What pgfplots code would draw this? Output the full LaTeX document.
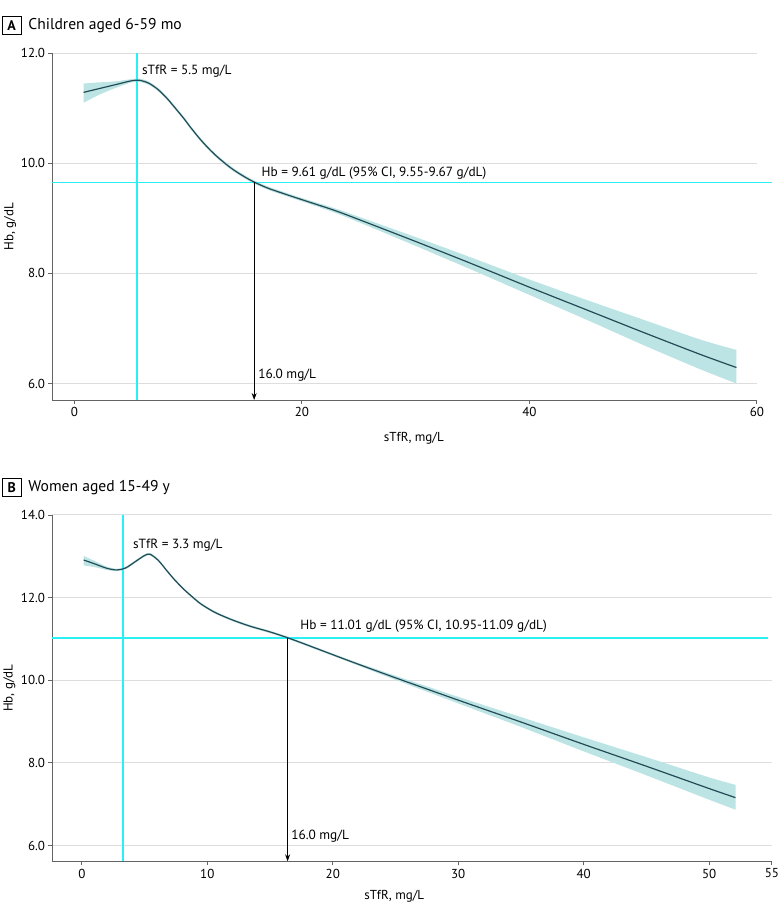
\documentclass[border=0pt]{standalone}
\usepackage{pgfplots}
\pgfplotsset{compat=1.18}
\usepackage{pgfplotstable}
\usepgfplotslibrary{fillbetween}
\usetikzlibrary{arrows.meta}
\usepackage{fontspec}
\setmainfont{PT Sans}
\definecolor{cyanl}{RGB}{40,240,245}
\definecolor{band}{RGB}{188,228,228}
\definecolor{curve}{RGB}{35,75,85}
\definecolor{gridc}{RGB}{221,221,221}
\definecolor{axc}{RGB}{100,100,100}

\pgfplotstableread{
x y lo hi
0.8 11.29 11.10 11.45
2 11.35 11.23 11.47
3 11.40 11.32 11.48
4 11.45 11.40 11.50
5 11.50 11.47 11.53
5.7 11.51 11.48 11.54
6.5 11.46 11.43 11.49
7.3 11.35 11.32 11.38
8.1 11.19 11.16 11.22
8.8 11.02 10.99 11.05
9.6 10.82 10.79 10.85
10.3 10.63 10.60 10.66
11.05 10.44 10.41 10.47
11.8 10.27 10.24 10.30
12.5 10.13 10.10 10.16
13.3 9.99 9.96 10.02
14.0 9.88 9.85 9.91
15 9.75 9.72 9.78
15.8 9.66 9.63 9.69
17 9.55 9.52 9.58
18.4 9.45 9.42 9.48
20 9.34 9.31 9.37
22.8 9.15 9.11 9.19
25 8.98 8.93 9.03
30 8.58 8.50 8.66
35 8.17 8.06 8.28
40 7.75 7.61 7.89
45 7.34 7.16 7.52
50 6.93 6.70 7.16
55 6.53 6.26 6.80
58.2 6.29 6.00 6.61
}\dataA

\pgfplotstableread{
x y lo hi
0.15 12.91 12.78 13.01
1 12.82 12.74 12.89
2 12.71 12.67 12.75
2.8 12.67 12.64 12.70
3.5 12.72 12.69 12.75
4.3 12.88 12.85 12.91
5.0 13.02 12.99 13.05
5.44 13.05 13.02 13.08
6.1 12.90 12.87 12.93
6.78 12.65 12.62 12.68
7.4 12.43 12.40 12.46
8.1 12.21 12.18 12.24
8.8 12.02 11.99 12.05
9.43 11.86 11.83 11.89
10.1 11.73 11.70 11.76
10.76 11.62 11.59 11.65
12 11.46 11.43 11.49
13.4 11.31 11.28 11.34
15 11.17 11.14 11.20
16.4 11.03 11.00 11.06
18 10.85 10.82 10.88
21.4 10.46 10.43 10.49
25 10.06 10.01 10.11
30 9.52 9.44 9.60
35 8.99 8.87 9.11
40 8.45 8.28 8.62
45 7.92 7.70 8.14
50 7.38 7.11 7.65
52.1 7.16 6.87 7.47
}\dataB

\pgfplotsset{
  panel/.style={
    scale only axis,
    anchor=south west,
    axis x line*=bottom,
    axis y line*=left,
    axis line style={axc, line width=0.9bp},
    tick style={axc, line width=0.9bp},
    tick align=outside,
    major tick length=4bp,
    ymajorgrids,
    grid style={gridc, line width=1bp},
    tick label style={font=\fontsize{13bp}{15bp}\selectfont},
    label style={font=\fontsize{13bp}{15bp}\selectfont},
    /pgf/number format/assume math mode=true,
    yticklabel style={/pgf/number format/.cd, fixed, precision=1, fixed zerofill},
    xticklabel style={/pgf/number format/.cd, fixed},
    clip=false,
  },
}
\tikzset{ann/.style={font=\fontsize{13.3bp}{15bp}\selectfont, inner sep=0pt, anchor=west}}

\begin{document}
\begin{tikzpicture}
\path (0,0) rectangle (783bp,919bp);

% Panel A title
\node[draw=black, line width=0.8bp, minimum width=19bp, minimum height=18bp, inner sep=0pt, font=\fontsize{14bp}{16bp}\selectfont\bfseries] at (11.5bp,893.3bp) {A};
\node[anchor=west, inner sep=0pt, font=\fontsize{15.6bp}{17bp}\selectfont] at (28bp,893.3bp) {Children aged 6-59 mo};

\begin{axis}[panel,
  at={(52.3bp,519bp)},
  width=704.4bp, height=346.7bp,
  xmin=-1.93, xmax=60, ymin=5.70, ymax=12,
  xtick={0,20,40,60}, ytick={6,8,10,12},
  xlabel={sTfR, mg/L}, ylabel={Hb, g/dL},
  xlabel style={at={(axis description cs:0.513,-0.11)}, anchor=center},
  ylabel style={at={(axis description cs:-0.060,0.5)}, anchor=center},
]
\addplot[name path=loA, draw=none, smooth] table[x=x, y=lo] {\dataA};
\addplot[name path=hiA, draw=none, smooth] table[x=x, y=hi] {\dataA};
\addplot[band, draw=none] fill between[of=loA and hiA];
\addplot[draw=cyanl, line width=1.6bp] coordinates {(5.5,5.70) (5.5,12)};
\addplot[draw=cyanl, line width=1.6bp] coordinates {(-1.93,9.655) (61.3,9.655)};
\addplot[curve, line width=1.2bp, smooth] table[x=x, y=y] {\dataA};
\addplot[black, line width=0.9bp, -{Stealth[length=7bp, width=5bp]}] coordinates {(15.8,9.655) (15.8,5.70)};
\node[ann] at (axis cs:5.93,11.68) {sTfR = 5.5 mg/L};
\node[ann] at (axis cs:16.44,9.82) {Hb = 9.61 g/dL (95\% CI, 9.55-9.67 g/dL)};
\node[ann] at (axis cs:16.15,6.15) {16.0 mg/L};
\end{axis}

% Panel B title
\node[draw=black, line width=0.8bp, minimum width=19bp, minimum height=18bp, inner sep=0pt, font=\fontsize{14bp}{16bp}\selectfont\bfseries] at (11.5bp,431.7bp) {B};
\node[anchor=west, inner sep=0pt, font=\fontsize{15.6bp}{17bp}\selectfont] at (28bp,431.7bp) {Women aged 15-49 y};

\begin{axis}[panel,
  at={(52.3bp,57.7bp)},
  width=719.4bp, height=346.3bp,
  xmin=-2.34, xmax=55, ymin=5.62, ymax=14,
  xtick={0,10,20,30,40,50,55}, ytick={6,8,10,12,14},
  xlabel={sTfR, mg/L}, ylabel={Hb, g/dL},
  xlabel style={at={(axis description cs:0.475,-0.102)}, anchor=center},
  ylabel style={at={(axis description cs:-0.060,0.5)}, anchor=center},
]
\addplot[name path=loB, draw=none, smooth] table[x=x, y=lo] {\dataB};
\addplot[name path=hiB, draw=none, smooth] table[x=x, y=hi] {\dataB};
\addplot[band, draw=none] fill between[of=loB and hiB];
\addplot[draw=cyanl, line width=1.6bp] coordinates {(3.3,5.62) (3.3,14)};
\addplot[draw=cyanl, line width=1.6bp] coordinates {(-2.34,11.03) (54.7,11.03)};
\addplot[curve, line width=1.2bp, smooth] table[x=x, y=y] {\dataB};
\addplot[black, line width=0.9bp, -{Stealth[length=7bp, width=5bp]}] coordinates {(16.4,11.03) (16.4,5.62)};
\node[ann] at (axis cs:4.07,13.27) {sTfR = 3.3 mg/L};
\node[ann] at (axis cs:17.4,11.30) {Hb = 11.01 g/dL (95\% CI, 10.95-11.09 g/dL)};
\node[ann] at (axis cs:16.68,6.22) {16.0 mg/L};
\end{axis}
\end{tikzpicture}
\end{document}
